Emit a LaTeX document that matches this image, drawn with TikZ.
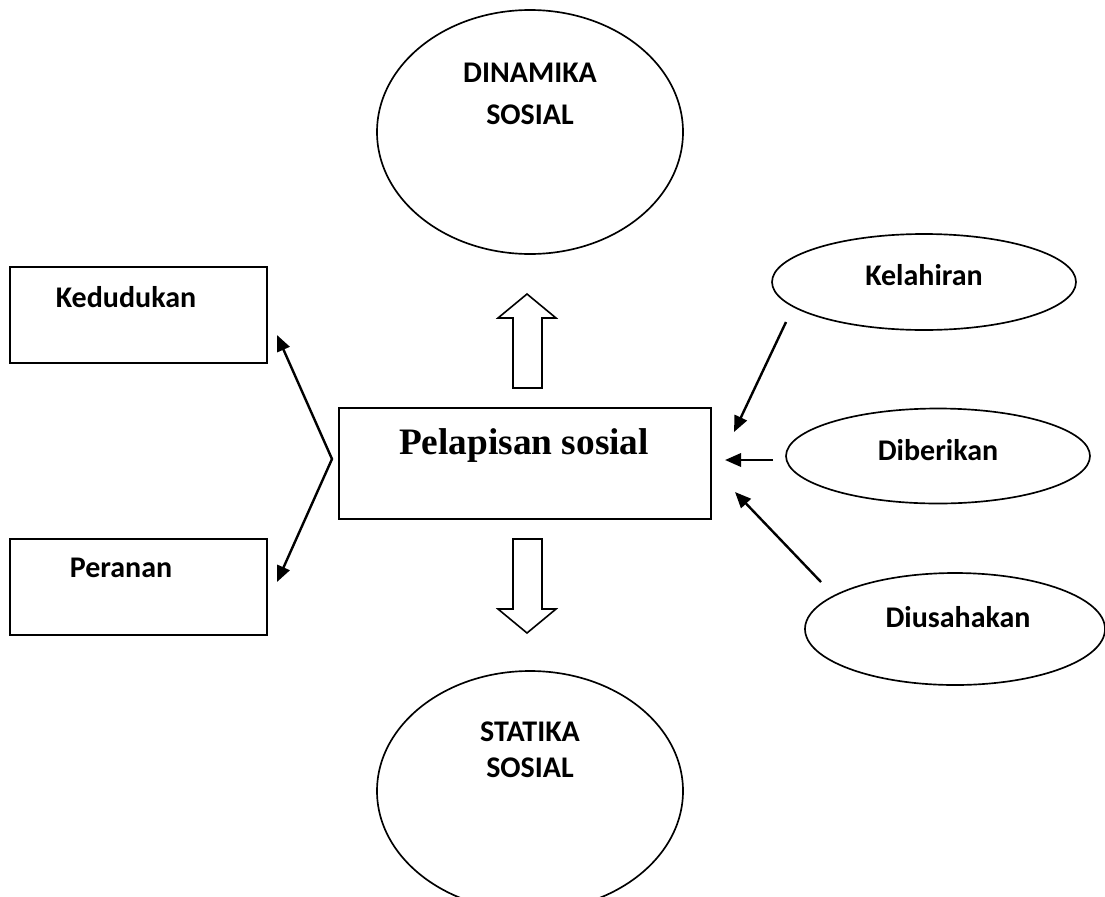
\documentclass[tikz,border=0pt]{standalone}
\usepackage{fontspec}
\setmainfont{Carlito}
\newfontfamily\timesbold{Liberation Serif}
\usetikzlibrary{shapes.geometric,arrows.meta}
\tikzstyle{oval}=[ellipse, draw, line width=1.25pt, inner sep=0pt]
\tikzstyle{box}=[rectangle, draw, line width=1.4pt, inner sep=0pt]
\tikzset{word/.style={font=\fontsize{22.5}{27}\selectfont\bfseries, inner sep=0pt, align=center}}
\tikzset{link/.style={-{Triangle[length=12pt,width=10pt]}, line width=1.8pt}}
\tikzset{hollow/.style={draw, line width=1.2pt, line join=miter}}

\begin{document}
\begin{tikzpicture}[x=0.75pt,y=-0.75pt]
  \useasboundingbox (0,0) rectangle (1105,896);
  %% Big ovals
  \draw (530,132) node[oval,minimum width=229.5pt,minimum height=183pt] (dinamika) {};
  \draw (530,94) node[word,font=\fontsize{22.5}{31.5}\selectfont\bfseries] (dinamika-txt) {DINAMIKA\\SOSIAL};
  \draw (530,791) node[oval,minimum width=229.5pt,minimum height=180pt] (statika) {};
  \draw (530,750) node[word,font=\fontsize{22.5}{27}\selectfont\bfseries] (statika-txt) {STATIKA\\SOSIAL};

  %% Centre box
  \draw (525,463.5) node[box,minimum width=279pt,minimum height=83.25pt] (pelapisan) {};
  \draw (524,446) node[inner sep=0pt,font=\fontsize{28}{30}\timesbold\bfseries] (pelapisan-txt) {Pelapisan sosial};

  %% Left boxes
  \draw (138.5,315) node[box,minimum width=192.75pt,minimum height=72pt] (kedudukan) {};
  \draw (126,297) node[word] (kedudukan-txt) {Kedudukan};
  \draw (138.5,587) node[box,minimum width=192.75pt,minimum height=72pt] (peranan) {};
  \draw (121,568) node[word] (peranan-txt) {Peranan};

  %% Right ovals
  \draw (924,282) node[oval,minimum width=228pt,minimum height=72pt] (kelahiran) {};
  \draw (924,275) node[word] (kelahiran-txt) {Kelahiran};
  \draw (938,456) node[oval,minimum width=228pt,minimum height=71.25pt] (diberikan) {};
  \draw (938,450) node[word] (diberikan-txt) {Diberikan};
  \draw (955,629) node[oval,minimum width=225pt,minimum height=84pt] (diusahakan) {};
  \draw (958,617) node[word] (diusahakan-txt) {Diusahakan};

  %% Hollow arrows
  \draw[hollow] (513,388) -- (513,318) -- (498,318) -- (527,294) -- (556,318) -- (542,318) -- (542,388) -- cycle;
  \draw[hollow] (513,539) -- (513,609) -- (498,609) -- (527,633) -- (556,609) -- (542,609) -- (542,539) -- cycle;

  %% Connectors
  \coordinate (fork) at (332,459);
  \coordinate (kedudukan-in) at (277,335);
  \coordinate (peranan-in) at (277,582);
  \draw[link,{Triangle[length=12pt,width=10pt]}-{Triangle[length=12pt,width=10pt]}] (kedudukan-in) -- (fork) -- (peranan-in);

  \coordinate (kelahiran-out) at (786,322);
  \coordinate (kelahiran-in) at (734,432);
  \coordinate (diberikan-out) at (773,460);
  \coordinate (diberikan-in) at (725,460);
  \coordinate (diusahakan-out) at (821,582);
  \coordinate (diusahakan-in) at (735,492);
  \draw[link] (kelahiran-out) -- (kelahiran-in);
  \draw[link] (diberikan-out) -- (diberikan-in);
  \draw[link] (diusahakan-out) -- (diusahakan-in);
\end{tikzpicture}
\end{document}
